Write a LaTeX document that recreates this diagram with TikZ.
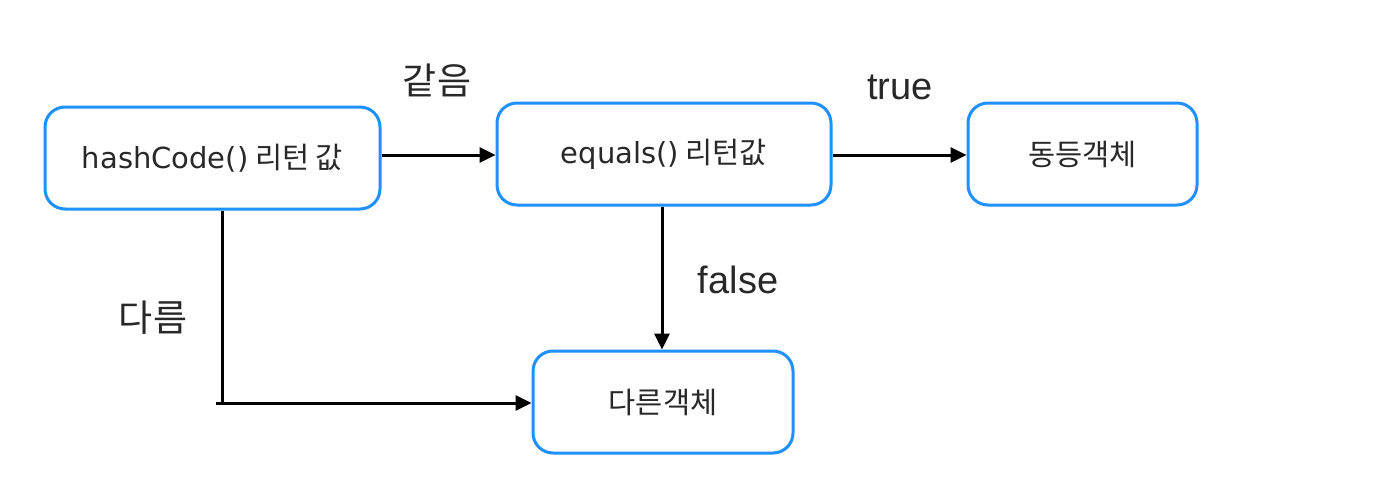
\documentclass[tikz,border=0pt]{standalone}
\usepackage{fontspec}
\setmainfont{Noto Sans CJK KR}
\newfontfamily\dvs{DejaVu Sans}
\newfontfamily\lib{Liberation Sans}
\usetikzlibrary{arrows.meta}
\definecolor{boxblue}{RGB}{30,144,255}
\definecolor{txt}{RGB}{40,40,40}
\newcommand{\lat}[1]{{\dvs\fontsize{29}{33}\selectfont #1}}
\tikzset{
  flowbox/.style={draw=boxblue, line width=3pt, rounded corners=20pt, fill=white,
    minimum height=102pt, text=txt, font=\fontsize{29.5}{33}\selectfont, inner sep=0pt},
  conn/.style={line width=3pt, -{Triangle[length=16pt,width=15pt]}},
  lbl/.style={text=txt, font=\fontsize{37}{42}\selectfont},
  lbllat/.style={text=txt, font=\lib\fontsize{38}{42}\selectfont}
}
\begin{document}
\begin{tikzpicture}[x=1pt,y=-1pt]
\useasboundingbox (0,0) rectangle (1384,496);
\node[flowbox, minimum width=335pt] (hash) at (212.5,158) {\lat{hashCode()} 리턴 값};
\node[flowbox, minimum width=334pt] (eq) at (664,154) {\lat{equals()} 리턴값};
\node[flowbox, minimum width=229pt] (same) at (1082.5,154) {동등객체};
\node[flowbox, minimum width=260pt] (diff) at (663,402) {다른객체};
\coordinate (corner) at (222,403);
\coordinate (stub) at (216,403);
\draw[conn] (hash.east |- 0,155) -- (eq.west |- 0,155);
\draw[conn] (eq.east |- 0,155) -- (same.west |- 0,155);
\draw[conn] (eq.south -| 662,0) -- (diff.north -| 662,0);
\draw[line width=3pt] (hash.south -| corner) -- (corner);
\draw[conn] (stub) -- (diff.west |- corner);
\node[lbl] (l1) at (437,80) {같음};
\node[lbllat] (l2) at (900,87) {true};
\node[lbllat] (l3) at (738,280) {false};
\node[lbl] (l4) at (153,318) {다름};
\end{tikzpicture}
\end{document}
